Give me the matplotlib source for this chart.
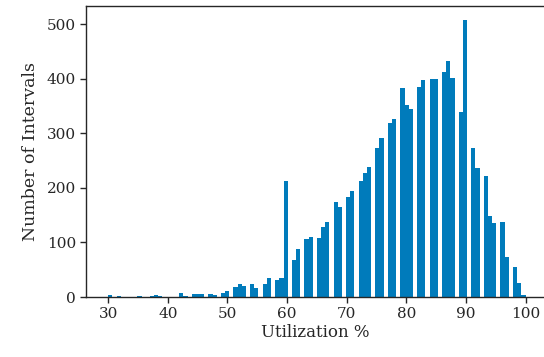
import numpy as np
import matplotlib
matplotlib.use("Agg")
import matplotlib.pyplot as plt

# -------- Data: number of intervals per utilization value (%) --------
utilization = np.arange(30, 101)
counts = [
    4, 0, 1, 0, 0, 1, 0, 1, 4, 1,            # 30-39
    0, 0, 7, 1, 5.5, 5.5, 5.5, 5.5, 3.7, 7,  # 40-49
    11, 18, 24, 20, 24, 16.5, 24, 35, 31, 35,  # 50-59
    212, 68, 88, 106, 110, 108, 128, 137, 174, 165,  # 60-69
    183, 194, 213, 227, 238, 273, 292, 319, 326, 383,  # 70-79
    352, 345, 385, 398, 400, 400, 412, 432, 401, 339,  # 80-89
    507, 273, 236, 222, 148, 136, 137, 73, 55, 26,  # 90-99
    4,                                             # 100
]

BAR_COLOR = "#007bbb"

plt.rcParams["font.family"] = ["DejaVu Serif"]

fig = plt.figure(figsize=(5.44, 3.57), dpi=100)
ax = fig.add_axes([0.158, 0.168, 0.842, 0.815])

# 100 equal bins between min and max; edges shifted a hair left so that
# values lying exactly on an edge go to the bin on the right
edges = np.linspace(30, 100, 101) - 1e-6
edges[-1] = 100 + 1e-6
ax.hist(utilization, bins=edges, weights=counts, color=BAR_COLOR, edgecolor="none")

ax.set_xlim(26.26, 103.1)
ax.set_ylim(0, 533)
ax.set_xticks(np.arange(30, 101, 10))
ax.set_yticks(np.arange(0, 501, 100))

ax.tick_params(direction="out", length=4, width=1, labelsize=11, colors="#262626", pad=3)
for side in ["left", "bottom", "top"]:
    ax.spines[side].set_color("#262626")
    ax.spines[side].set_linewidth(1)
ax.spines["right"].set_visible(False)

ax.set_xlabel("Utilization %", fontsize=12, color="#262626", labelpad=2)
ax.set_ylabel("Number of Intervals", fontsize=12.5, color="#262626", labelpad=6)

plt.savefig("out.png", dpi=100)
